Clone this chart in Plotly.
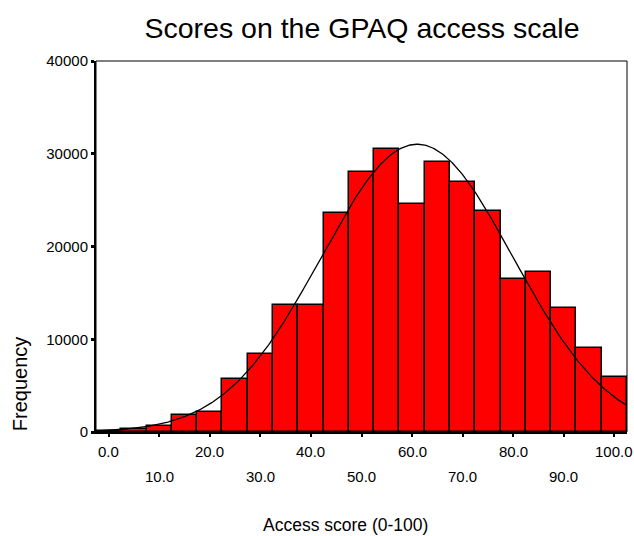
import numpy as np
import plotly.graph_objects as go

# Data
bin_centers = [0, 5, 10, 15, 20, 25, 30, 35, 40, 45, 50, 55, 60, 65, 70, 75, 80, 85, 90, 95, 100]
frequencies = [150, 350, 700, 1870, 2120, 5710, 8440, 13660, 13660, 23610, 28070, 30550,
               24550, 29150, 26950, 23830, 16500, 17290, 13330, 9090, 5960]
bin_width = 5
# fitted normal curve parameters (as drawn)
curve_mean = 61.0
curve_sd = 19.0

x_tick_vals = [0, 10, 20, 30, 40, 50, 60, 70, 80, 90, 100]
x_tick_labels = ["0.0", "10.0", "20.0", "30.0", "40.0", "50.0", "60.0", "70.0", "80.0", "90.0", "100.0"]
y_tick_vals = [0, 10000, 20000, 30000, 40000]
y_tick_labels = ["0", "10000", "20000", "30000", "40000"]

title_text = "Scores on the GPAQ access scale"
x_title = "Access score (0-100)"
y_title = "Frequency"

n_total = sum(frequencies)
xs = np.linspace(-2.5, 102.5, 400)
ys = n_total * bin_width / (curve_sd * np.sqrt(2 * np.pi)) * np.exp(-0.5 * ((xs - curve_mean) / curve_sd) ** 2)

fig = go.Figure()
fig.add_trace(go.Bar(x=bin_centers, y=frequencies, width=bin_width,
                     marker=dict(color="#FF0000", line=dict(color="black", width=1.5)),
                     showlegend=False, hoverinfo="x+y"))
fig.add_trace(go.Scatter(x=xs, y=ys, mode="lines", line=dict(color="black", width=1.3),
                         showlegend=False, hoverinfo="skip"))

font_family = "Liberation Sans, Arial, sans-serif"

annotations = []
for i, (v, t) in enumerate(zip(x_tick_vals, x_tick_labels)):
    annotations.append(dict(x=v, y=0, xref="x", yref="paper", text=t, showarrow=False,
                            yanchor="middle", xanchor="center", yshift=-19 if i % 2 == 0 else -44,
                            font=dict(size=15, color="black", family=font_family)))
annotations.append(dict(x=-0.143, y=0.129, xref="paper", yref="paper", text=y_title, showarrow=False,
                        textangle=-90, xanchor="center", yanchor="middle",
                        font=dict(size=20, color="black", family=font_family)))
annotations.append(dict(x=0.469, y=0, xref="paper", yref="paper", text=x_title, showarrow=False,
                        xanchor="center", yanchor="middle", yshift=-93,
                        font=dict(size=17.5, color="black", family=font_family)))

fig.update_layout(
    width=634, height=536,
    margin=dict(l=96, r=7, t=61, b=104),
    paper_bgcolor="white", plot_bgcolor="white",
    bargap=0,
    title=dict(text=title_text, x=0.571, xanchor="center", y=1 - 28 / 536, yanchor="middle",
               yref="container", font=dict(size=28.5, color="black", family=font_family)),
    xaxis=dict(range=[-2.5, 102.5], tickvals=x_tick_vals, showticklabels=False,
               ticks="outside", ticklen=3, tickwidth=2, tickcolor="black",
               showline=True, linecolor="black", linewidth=2, showgrid=False, zeroline=False),
    yaxis=dict(range=[0, 40000], tickvals=y_tick_vals, ticktext=y_tick_labels,
               ticks="outside", ticklen=3, tickwidth=3,
               tickcolor="black", showline=True, linecolor="black", linewidth=2,
               showgrid=False, zeroline=False,
               tickfont=dict(size=15, color="black", family=font_family)),
    annotations=annotations,
    shapes=[dict(type="rect", xref="paper", yref="paper", x0=0, x1=1, y0=0, y1=1,
                 line=dict(color="black", width=1), layer="above")],
)

fig.write_html("out.html", config={"displayModeBar": False},
               post_script="document.body.style.margin='0';document.body.style.overflow='hidden';")
